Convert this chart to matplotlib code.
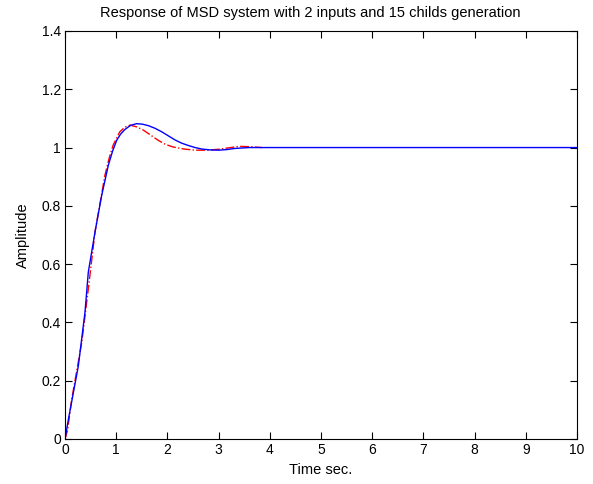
import numpy as np
import matplotlib.pyplot as plt

plt.rcParams['font.family'] = ['Liberation Sans', 'DejaVu Sans']

# blue: model response
T_BLUE = [0, 0.065, 0.26, 0.39, 0.455, 0.586, 0.717, 0.846, 0.93, 1.01, 1.09, 1.17,
          1.28, 1.40, 1.52, 1.63, 1.76, 1.89, 2.02, 2.15, 2.28, 2.41, 2.54, 2.67,
          2.83, 3.0, 3.16, 3.32, 3.6, 3.85, 10]
Y_BLUE = [0, 0.066, 0.25, 0.434, 0.572, 0.71, 0.836, 0.939, 0.988, 1.025, 1.047, 1.062,
          1.076, 1.082, 1.08, 1.075, 1.066, 1.054, 1.04, 1.026, 1.015, 1.007, 1.0, 0.995,
          0.992, 0.991, 0.993, 0.997, 1.0, 1.0, 1.0]

# red: reference response
T_RED = [0, 0.05, 0.13, 0.326, 0.455, 0.586, 0.78, 0.86, 0.94, 1.07, 1.17, 1.27,
         1.40, 1.53, 1.67, 1.82, 1.96, 2.11, 2.32, 2.54, 2.77, 3.0, 3.2, 3.4, 3.6, 3.85]
Y_RED = [0, 0.03, 0.135, 0.33, 0.514, 0.71, 0.905, 0.962, 1.008, 1.054, 1.07, 1.077,
         1.071, 1.06, 1.043, 1.025, 1.011, 1.002, 0.995, 0.991, 0.991, 0.994, 0.999, 1.004,
         1.003, 1.0]

X_TICKS = list(range(0, 11))
Y_TICKS = [0, 0.2, 0.4, 0.6, 0.8, 1, 1.2, 1.4]
Y_TICK_LABELS = ['0', '0.2', '0.4', '0.6', '0.8', '1', '1.2', '1.4']

fig = plt.figure(figsize=(5.93, 4.84), dpi=100)
ax = fig.add_axes([0.1096, 0.093, 0.8634, 0.843])

ax.plot(T_RED, Y_RED, color='#ff0000', linestyle='-.', linewidth=1)
ax.plot(T_BLUE, Y_BLUE, color='#0000ff', linewidth=1)

ax.set_xlim(0, 10)
ax.set_ylim(0, 1.4)
ax.set_xticks(X_TICKS)
ax.set_yticks(Y_TICKS)
ax.set_yticklabels(Y_TICK_LABELS)
ax.tick_params(direction='in', top=True, right=True, length=5, labelsize=10, pad=3)

fig.text(310 / 593, 1 - 13 / 484, 'Response of MSD system with 2 inputs and 15 childs generation',
         fontsize=10.5, ha='center', va='center')
ax.set_xlabel('Time sec.', fontsize=10.5, labelpad=4)
ax.set_ylabel('Amplitude', fontsize=10.5, labelpad=8)

fig.savefig('out.png', dpi=100)
